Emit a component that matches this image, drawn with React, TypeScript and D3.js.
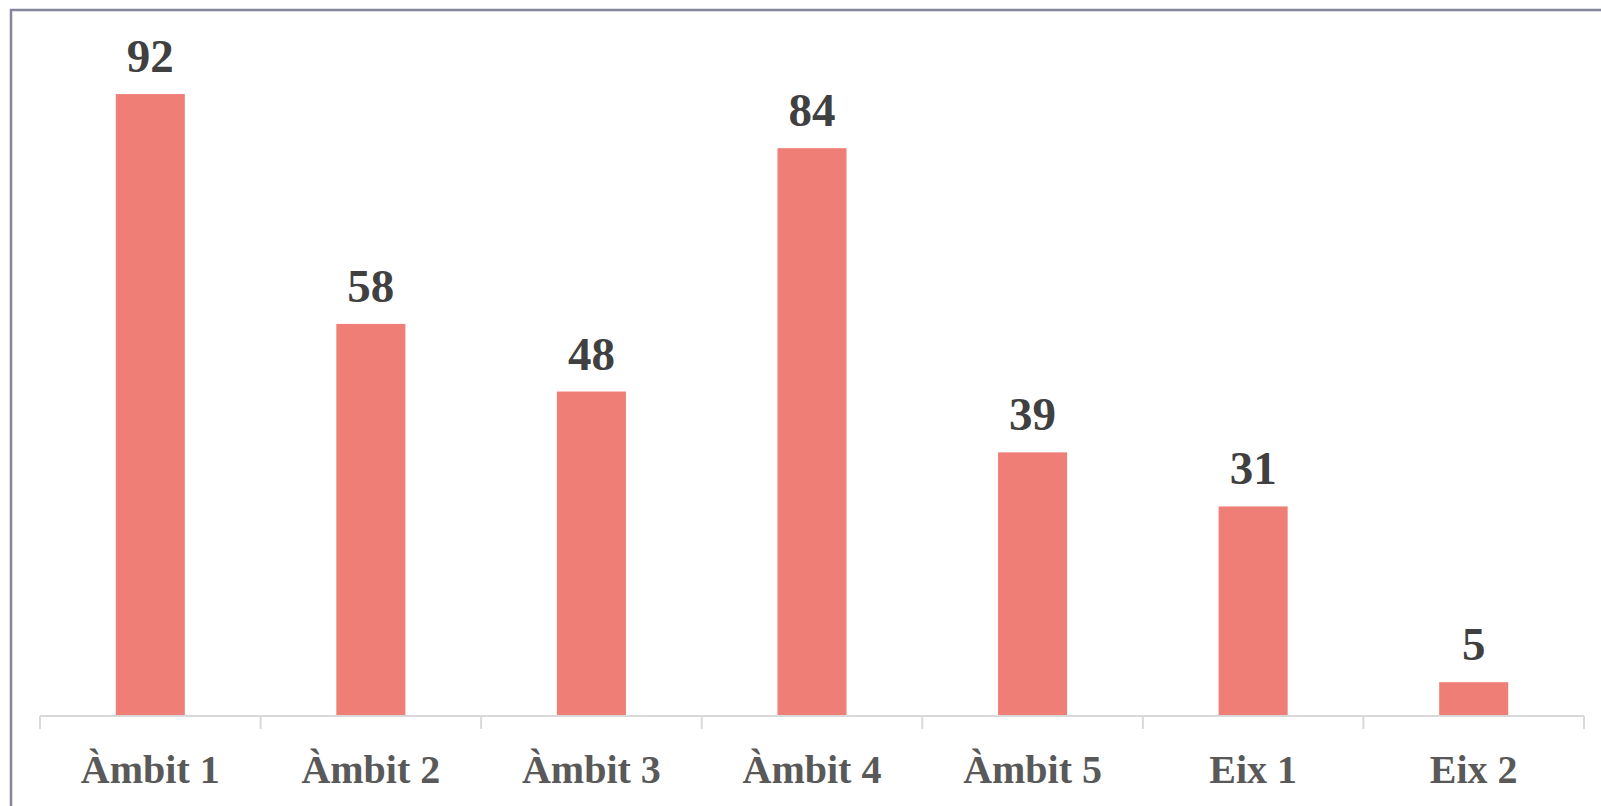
import React from "react";
import * as d3 from "d3";

const categories = ["Àmbit 1", "Àmbit 2", "Àmbit 3", "Àmbit 4", "Àmbit 5", "Eix 1", "Eix 2"];
const values = [92, 58, 48, 84, 39, 31, 5];

const width = 1601;
const height = 806;
const axisY = 716;

const App: React.FC = () => {
  const x = d3.scaleBand<string>().domain(categories).range([40, 1584]).paddingInner(0.687).paddingOuter(0.3435);
  const y = d3.scaleLinear().domain([0, 100]).range([axisY, 40]);
  const band = d3.scaleBand<string>().domain(categories).range([40, 1584]);

  return (
    <svg
      width={width}
      height={height}
      style={{ position: "absolute", left: 0, top: 0, background: "#fff" }}
    >
      {/* outer frame */}
      <rect x={11} y={10} width={width} height={height} fill="none" stroke="#85859d" strokeWidth={2.5} />

      {values.map((v, i) => (
        <g key={categories[i]}>
          <rect
            x={x(categories[i])}
            y={y(v)}
            width={x.bandwidth()}
            height={axisY - y(v)}
            fill="#ef7e76"
          />
          <text
            x={(x(categories[i]) ?? 0) + x.bandwidth() / 2}
            y={y(v) - 22}
            textAnchor="middle"
            fontFamily="Liberation Serif"
            fontWeight="bold"
            fontSize={47}
            fill="#404040"
          >
            {v}
          </text>
        </g>
      ))}

      {/* x axis */}
      <line x1={40} x2={1584} y1={axisY} y2={axisY} stroke="#d9d9d9" strokeWidth={2} />
      {[...categories.map((c) => band(c) ?? 0), 1584].map((t, i) => (
        <line key={i} x1={t} x2={t} y1={axisY} y2={729} stroke="#d9d9d9" strokeWidth={2} />
      ))}
      {categories.map((c) => (
        <text
          key={c}
          x={(band(c) ?? 0) + band.bandwidth() / 2}
          y={783}
          textAnchor="middle"
          fontFamily="Liberation Serif"
          fontWeight="bold"
          fontSize={40}
          fill="#595959"
        >
          {c}
        </text>
      ))}
    </svg>
  );
};

export default App;
